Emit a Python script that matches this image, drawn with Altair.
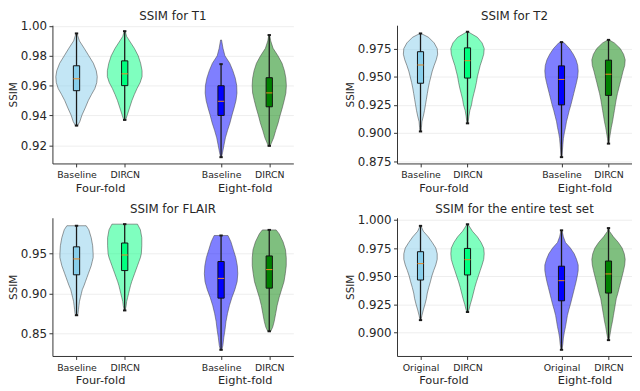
import altair as alt
import pandas as pd

positions = [1, 2, 4, 5]
group_labels = ["Four-fold", "Eight-fold"]
group_centers = [1.5, 4.5]
method_labels = ["Baseline", "DIRCN", "Baseline", "DIRCN"]
method_labels_all = ["Original", "DIRCN", "Original", "DIRCN"]
violin_colors = ["#87ceeb", "#00ff7f", "#0000ff", "#008000"]
titles = ["SSIM for T1", "SSIM for T2", "SSIM for FLAIR", "SSIM for the entire test set"]

# ---------------- T1 ----------------
t1_values = [
    [0.995, 0.990, 0.985, 0.980, 0.975, 0.970, 0.966, 0.962, 0.958, 0.954, 0.950, 0.945, 0.940, 0.936, 0.933],
    [0.9965, 0.993, 0.990, 0.985, 0.980, 0.975, 0.970, 0.966, 0.962, 0.958, 0.954, 0.950, 0.945, 0.940, 0.937],
    [0.9906, 0.985, 0.980, 0.975, 0.970, 0.965, 0.960, 0.955, 0.950, 0.945, 0.940, 0.935, 0.930, 0.925, 0.920, 0.915, 0.912],
    [0.9939, 0.990, 0.985, 0.980, 0.975, 0.970, 0.965, 0.960, 0.955, 0.950, 0.945, 0.940, 0.935, 0.930, 0.925, 0.9196],
]
t1_widths = [
    [0.01, 0.06, 0.16, 0.255, 0.35, 0.41, 0.43, 0.42, 0.38, 0.31, 0.245, 0.18, 0.11, 0.07, 0.02],
    [0.01, 0.04, 0.10, 0.20, 0.28, 0.33, 0.36, 0.36, 0.32, 0.255, 0.20, 0.15, 0.10, 0.05, 0.02],
    [0.01, 0.04, 0.08, 0.18, 0.245, 0.295, 0.325, 0.33, 0.31, 0.27, 0.225, 0.185, 0.135, 0.09, 0.06, 0.03, 0.01],
    [0.01, 0.03, 0.08, 0.18, 0.265, 0.315, 0.345, 0.355, 0.345, 0.31, 0.27, 0.225, 0.185, 0.135, 0.09, 0.02],
]
# min, q1, median, q3, max (whisker ends)
t1_stats = [
    [0.9332, 0.9566, 0.9646, 0.9733, 0.995],
    [0.937, 0.960, 0.9679, 0.9766, 0.9965],
    [0.912, 0.940, 0.9495, 0.9599, 0.9744],
    [0.9196, 0.9458, 0.9551, 0.9653, 0.9939],
]

# ---------------- T2 ----------------
t2_values = [
    [0.9884, 0.985, 0.980, 0.975, 0.970, 0.965, 0.960, 0.955, 0.950, 0.945, 0.940, 0.935, 0.930, 0.925, 0.920, 0.915, 0.910, 0.905, 0.9014],
    [0.9899, 0.985, 0.980, 0.975, 0.970, 0.965, 0.960, 0.955, 0.950, 0.945, 0.940, 0.935, 0.930, 0.925, 0.920, 0.915, 0.9086],
    [0.9807, 0.980, 0.975, 0.970, 0.965, 0.960, 0.955, 0.950, 0.945, 0.940, 0.935, 0.930, 0.925, 0.920, 0.915, 0.910, 0.905, 0.900, 0.895, 0.890, 0.885, 0.8786],
    [0.9827, 0.980, 0.975, 0.970, 0.965, 0.960, 0.955, 0.950, 0.945, 0.940, 0.935, 0.930, 0.925, 0.920, 0.915, 0.910, 0.905, 0.900, 0.895, 0.8906],
]
t2_widths = [
    [0.01, 0.17, 0.29, 0.355, 0.365, 0.335, 0.29, 0.25, 0.22, 0.19, 0.165, 0.145, 0.125, 0.105, 0.085, 0.06, 0.03, 0.02, 0.01],
    [0.01, 0.21, 0.31, 0.355, 0.345, 0.31, 0.27, 0.24, 0.21, 0.19, 0.165, 0.135, 0.105, 0.085, 0.05, 0.03, 0.01],
    [0.01, 0.06, 0.17, 0.25, 0.31, 0.345, 0.355, 0.345, 0.32, 0.29, 0.26, 0.23, 0.20, 0.165, 0.135, 0.105, 0.085, 0.06, 0.04, 0.03, 0.02, 0.01],
    [0.01, 0.125, 0.25, 0.32, 0.355, 0.345, 0.31, 0.28, 0.25, 0.22, 0.19, 0.165, 0.145, 0.125, 0.105, 0.085, 0.06, 0.04, 0.02, 0.01],
]
t2_stats = [
    [0.9014, 0.9442, 0.9604, 0.9722, 0.9884],
    [0.9086, 0.9488, 0.9642, 0.9756, 0.9899],
    [0.8786, 0.925, 0.9476, 0.9596, 0.9807],
    [0.8906, 0.9334, 0.9522, 0.9647, 0.9827],
]

# ---------------- FLAIR ----------------
fl_values = [
    [0.985, 0.980, 0.970, 0.960, 0.950, 0.945, 0.940, 0.935, 0.930, 0.925, 0.920, 0.915, 0.910, 0.905, 0.900, 0.895, 0.890, 0.885, 0.880, 0.875, 0.873],
    [0.987, 0.980, 0.970, 0.960, 0.950, 0.945, 0.940, 0.935, 0.930, 0.925, 0.920, 0.915, 0.910, 0.905, 0.900, 0.895, 0.890, 0.885, 0.879],
    [0.9728, 0.965, 0.955, 0.945, 0.935, 0.925, 0.915, 0.905, 0.895, 0.885, 0.875, 0.865, 0.855, 0.845, 0.835, 0.8297],
    [0.9798, 0.975, 0.965, 0.955, 0.945, 0.935, 0.925, 0.915, 0.905, 0.895, 0.885, 0.875, 0.865, 0.858, 0.8529],
]
fl_widths = [
    [0.20, 0.255, 0.305, 0.335, 0.345, 0.345, 0.325, 0.305, 0.275, 0.245, 0.215, 0.185, 0.155, 0.12, 0.10, 0.08, 0.06, 0.05, 0.04, 0.03, 0.01],
    [0.265, 0.325, 0.355, 0.355, 0.345, 0.325, 0.295, 0.265, 0.235, 0.205, 0.175, 0.145, 0.12, 0.10, 0.08, 0.06, 0.04, 0.03, 0.01],
    [0.143, 0.204, 0.255, 0.306, 0.337, 0.347, 0.333, 0.286, 0.224, 0.173, 0.133, 0.102, 0.082, 0.057, 0.037, 0.016],
    [0.143, 0.204, 0.286, 0.337, 0.353, 0.353, 0.333, 0.306, 0.255, 0.204, 0.163, 0.133, 0.102, 0.071, 0.031],
]
fl_stats = [
    [0.873, 0.9236, 0.9435, 0.9586, 0.985],
    [0.879, 0.9289, 0.9484, 0.9634, 0.987],
    [0.8297, 0.8944, 0.9191, 0.9402, 0.9728],
    [0.8529, 0.9069, 0.9301, 0.9472, 0.9798],
]

# ---------------- Entire test set ----------------
all_values = [
    [0.9948, 0.990, 0.985, 0.980, 0.975, 0.970, 0.965, 0.960, 0.955, 0.950, 0.945, 0.940, 0.935, 0.930, 0.925, 0.920, 0.915, 0.9109],
    [0.9962, 0.990, 0.985, 0.980, 0.975, 0.970, 0.965, 0.960, 0.955, 0.950, 0.945, 0.940, 0.935, 0.930, 0.925, 0.920, 0.9181],
    [0.9908, 0.985, 0.980, 0.975, 0.970, 0.965, 0.960, 0.955, 0.950, 0.945, 0.940, 0.935, 0.930, 0.925, 0.920, 0.915, 0.910, 0.905, 0.900, 0.895, 0.890, 0.8845],
    [0.9928, 0.990, 0.985, 0.980, 0.975, 0.970, 0.965, 0.960, 0.955, 0.950, 0.945, 0.940, 0.935, 0.930, 0.925, 0.920, 0.915, 0.910, 0.905, 0.900, 0.8931],
]
all_widths = [
    [0.01, 0.06, 0.165, 0.25, 0.325, 0.355, 0.355, 0.325, 0.28, 0.24, 0.21, 0.175, 0.145, 0.125, 0.095, 0.06, 0.03, 0.01],
    [0.01, 0.105, 0.21, 0.29, 0.345, 0.355, 0.345, 0.31, 0.27, 0.23, 0.19, 0.155, 0.125, 0.095, 0.06, 0.03, 0.01],
    [0.01, 0.04, 0.085, 0.19, 0.27, 0.32, 0.355, 0.355, 0.335, 0.31, 0.28, 0.25, 0.22, 0.19, 0.155, 0.125, 0.105, 0.085, 0.06, 0.04, 0.03, 0.01],
    [0.01, 0.02, 0.105, 0.21, 0.29, 0.335, 0.355, 0.345, 0.32, 0.29, 0.26, 0.23, 0.20, 0.165, 0.145, 0.125, 0.105, 0.085, 0.06, 0.04, 0.01],
]
all_stats = [
    [0.9109, 0.9466, 0.9612, 0.9718, 0.9948],
    [0.9181, 0.9511, 0.9647, 0.9747, 0.9962],
    [0.8845, 0.9281, 0.946, 0.9589, 0.9908],
    [0.8931, 0.935, 0.952, 0.9635, 0.9928],
]

# axis settings per panel
t1_ydomain, t1_yticks, t1_fmt = [0.9078, 1.0005], [0.92, 0.94, 0.96, 0.98, 1.00], ".2f"
t2_ydomain, t2_yticks, t2_fmt = [0.873, 0.9957], [0.875, 0.900, 0.925, 0.950, 0.975], ".3f"
fl_ydomain, fl_yticks, fl_fmt = [0.822, 0.995], [0.85, 0.90, 0.95], ".2f"
all_ydomain, all_yticks, all_fmt = [0.879, 1.002], [0.900, 0.925, 0.950, 0.975, 1.000], ".3f"

BOX = 0.065
CAP = 0.035
TXT = "#262626"
AX = "#333333"
FONT = "DejaVu Sans"


def panel(title, values, widths, stats, labels, ydom, yticks, yfmt, w, h):
    ids = ["v%d" % i for i in range(4)]
    vrows = []
    for i, (vals, wds) in enumerate(zip(values, widths)):
        for v, d in zip(vals, wds):
            vrows.append({"id": ids[i], "v": v, "lo": positions[i] - d, "hi": positions[i] + d})
    vdf = pd.DataFrame(vrows)
    srows = []
    for i, s in enumerate(stats):
        p = positions[i]
        srows.append({"id": ids[i], "pos": p, "bl": p - BOX, "br": p + BOX,
                      "cl": p - CAP, "cr": p + CAP,
                      "mn": s[0], "q1": s[1], "med": s[2], "q3": s[3], "mx": s[4]})
    sdf = pd.DataFrame(srows)
    gdf = pd.DataFrame({"x": group_centers, "label": group_labels})
    tdf = pd.DataFrame({"t": [title]})

    arr = ["", labels[0], labels[1], "", labels[2], labels[3]]
    label_expr = "[" + ",".join("'%s'" % a for a in arr) + "][datum.value]"
    xscale = alt.Scale(domain=[0.5, 5.5], nice=False, zero=False)
    yscale = alt.Scale(domain=ydom, nice=False, zero=False)
    xaxis = alt.Axis(values=positions, labelExpr=label_expr, title=None, grid=False,
                     tickSize=3.5, tickColor=AX, domainColor=AX, labelFontSize=9.5,
                     labelPadding=3, labelColor=TXT, labelFlush=False)
    yaxis = alt.Axis(values=yticks, format=yfmt, title="SSIM", grid=True, gridColor="#e9e9e9",
                     gridWidth=0.8, tickSize=3.5, tickColor=AX, domainColor=AX,
                     labelFontSize=12, labelColor=TXT, labelPadding=2.5,
                     titleFontSize=10.5, titleFontWeight="normal", titleColor=TXT,
                     titlePadding=2)

    def X(f):
        return alt.X(f, scale=xscale, axis=xaxis)

    def Y(f):
        return alt.Y(f, scale=yscale, axis=yaxis)

    color = alt.Color("id:N", scale=alt.Scale(domain=ids, range=violin_colors), legend=None)

    violin = alt.Chart(vdf).mark_area(orient="horizontal", fillOpacity=0.5, stroke="#444444",
                                      strokeOpacity=0.55, strokeWidth=1).encode(
        y=Y("v:Q"), x=X("lo:Q"), x2="hi:Q", color=color, detail="id:N")
    whisk = alt.Chart(sdf).mark_rule(color="#1a1a1a", strokeWidth=1.3).encode(
        x=X("pos:Q"), y=Y("mn:Q"), y2="mx:Q")
    cap_lo = alt.Chart(sdf).mark_rule(color="#1a1a1a", strokeWidth=2).encode(
        x=X("cl:Q"), x2="cr:Q", y=Y("mn:Q"))
    cap_hi = alt.Chart(sdf).mark_rule(color="#1a1a1a", strokeWidth=2).encode(
        x=X("cl:Q"), x2="cr:Q", y=Y("mx:Q"))
    box = alt.Chart(sdf).mark_bar(stroke="#111111", strokeWidth=1).encode(
        x=X("bl:Q"), x2="br:Q", y=Y("q1:Q"), y2="q3:Q", color=color)
    med = alt.Chart(sdf).mark_rule(color="#f08a24", strokeWidth=1).encode(
        x=X("bl:Q"), x2="br:Q", y=Y("med:Q"))
    grp = alt.Chart(gdf).mark_text(baseline="top", fontSize=11.5, color=TXT, font=FONT).encode(
        x=X("x:Q"), y=alt.value(h + 19.5), text="label:N")
    ttl = alt.Chart(tdf).mark_text(baseline="alphabetic", align="center", fontSize=12,
                                   color=TXT, font=FONT).encode(
        x=alt.value(w / 2), y=alt.value(-5), text="t:N")

    return alt.layer(violin, whisk, cap_lo, cap_hi, box, med, grp, ttl).properties(width=w, height=h)


p1 = panel(titles[0], t1_values, t1_widths, t1_stats, method_labels, t1_ydomain, t1_yticks, t1_fmt, 244, 140)
p2 = panel(titles[1], t2_values, t2_widths, t2_stats, method_labels, t2_ydomain, t2_yticks, t2_fmt, 238, 140)
p3 = panel(titles[2], fl_values, fl_widths, fl_stats, method_labels, fl_ydomain, fl_yticks, fl_fmt, 244, 140)
p4 = panel(titles[3], all_values, all_widths, all_stats, method_labels_all, all_ydomain, all_yticks, all_fmt, 238, 140)

row1 = alt.hconcat(p1, p2, spacing=52)
row2 = alt.hconcat(p3, p4, spacing=52)
chart = alt.vconcat(row1, row2, spacing=9).properties(
    padding={"left": 0, "right": 0, "top": 0, "bottom": 0}
).configure(font=FONT).configure_view(stroke=None).configure_axis(
    labelFont=FONT, titleFont=FONT
)

chart.save("out.html", embed_options={"renderer": "svg", "actions": False})
